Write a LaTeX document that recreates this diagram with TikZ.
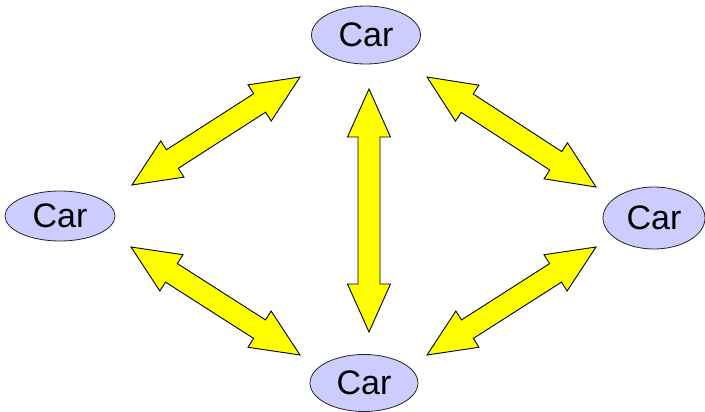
\documentclass[tikz,border=0pt]{standalone}
\usepackage{fontspec}
\setmainfont{Liberation Sans}
\usetikzlibrary{calc,shapes.geometric}

\definecolor{carblue}{RGB}{204,204,255}
\definecolor{arrowyellow}{RGB}{255,255,0}

\tikzset{
  car/.style={draw=black!85, fill=carblue, ellipse, inner sep=0pt, line width=0.8pt,
    font=\fontsize{34}{36}\selectfont},
  yellowarrow/.style={draw=black, fill=arrowyellow, line width=0.9pt, line join=miter}
}

% block arrow with a head at both ends, from tip #1 to tip #2
\newcommand{\dblarrow}[2]{%
  \coordinate (p1) at ($(#1)!48pt!(#2)$);
  \coordinate (p2) at ($(#2)!48pt!(#1)$);
  \draw[yellowarrow] (#1)
    -- ($(p1)!21.5pt!90:(#2)$) -- ($(p1)!11pt!90:(#2)$)
    -- ($(p2)!11pt!-90:(#1)$) -- ($(p2)!21.5pt!-90:(#1)$)
    -- (#2)
    -- ($(p2)!21.5pt!90:(#1)$) -- ($(p2)!11pt!90:(#1)$)
    -- ($(p1)!11pt!-90:(#2)$) -- ($(p1)!21.5pt!-90:(#2)$) -- cycle;}

\begin{document}
\begin{tikzpicture}[x=1pt,y=-1pt]
      \useasboundingbox (0,0) rectangle (705,412);

      % cars
      \node (top) at (366,35) [car, minimum width=109pt, minimum height=58pt] {Car};
      \node (left) at (60,216) [car, minimum width=110pt, minimum height=50pt] {Car};
      \node (right) at (654,218) [car, minimum width=102pt, minimum height=62pt] {Car};
      \node (bot) at (364,383) [car, minimum width=108pt, minimum height=57pt] {Car};

      % arrow tips
      \coordinate (tl1) at (300,77);
      \coordinate (tl2) at (132,185);
      \coordinate (tr1) at (427,77);
      \coordinate (tr2) at (596,187);
      \coordinate (bl1) at (131,247);
      \coordinate (bl2) at (300,355);
      \coordinate (br1) at (427,355);
      \coordinate (br2) at (596,247);
      \coordinate (v1) at (369,89);
      \coordinate (v2) at (369,332);

      \dblarrow{tl1}{tl2}
      \dblarrow{tr1}{tr2}
      \dblarrow{bl1}{bl2}
      \dblarrow{br1}{br2}
      \dblarrow{v1}{v2}

    \end{tikzpicture}
\end{document}
